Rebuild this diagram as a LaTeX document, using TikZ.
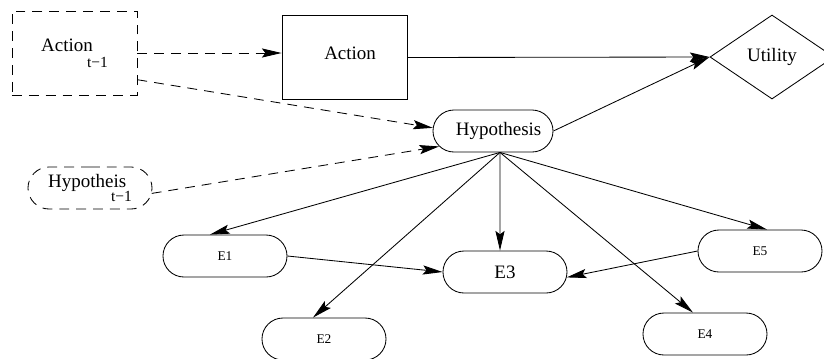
\documentclass[tikz,border=0pt]{standalone}
\usepackage{fontspec}
\setmainfont{Liberation Serif}
\usetikzlibrary{arrows.meta,shapes.geometric,shapes.misc}

\begin{document}
\begin{tikzpicture}[x=0.025cm,y=-0.025cm,line width=0.6pt,
  >={Stealth[length=14pt,width=6.5pt,inset=2.5pt]},
  font=\fontsize{13.5}{15}\selectfont,
  box/.style={draw,rectangle,minimum width=3.125cm,minimum height=2.1cm,inner sep=0pt},
  pill/.style={draw,rounded rectangle,minimum width=3.1cm,minimum height=1.05cm,inner sep=0pt},
  prev/.style={dash pattern=on 7pt off 5pt},
  small/.style={font=\fontsize{9.5}{11}\selectfont}]
\useasboundingbox (0,0) rectangle (824,358);
% 决策与效用
\node[box,prev,align=left] (actp) at (74.5,53)
  {Action\\[-3.5pt]\hspace*{32.6pt}{\fontsize{11}{11}\selectfont t−1}};
\node[box] (act) at (344.5,57.5) {\raisebox{6pt}{\hspace*{8pt}Action}};
\node[draw,diamond,minimum width=3.1cm,minimum height=2.1cm,inner sep=0pt] (util) at (772,57) {Utility};
% 假设
\node[pill,minimum width=3cm] (hyp) at (493,131) {\hspace*{8pt}Hypothesis};
\node[pill,prev,align=left] (hypp) at (90,188)
  {Hypotheis\\[-4.8pt]\hspace*{44.7pt}{\fontsize{11}{11}\selectfont t−1}};
% 证据
\node[pill,small] (e1) at (225,256) {E1};
\node[pill,small] (e2) at (324,339) {E2};
\node[pill] (e3) at (505,272) {E3};
\node[pill,small] (e4) at (705,334) {E4};
\node[pill,small] (e5) at (760,251) {E5};
% 时间上的连线（虚线）
\draw[->,prev] (actp.east) -- (actp.east -| act.west);
\draw[->,prev] (actp.-23) -- (hyp.177);
\draw[->,prev] (hypp.-5) -- (hyp.196);
% 效用
\draw[->] (act.east) -- (util.west);
\draw[->] (hyp.east) -- (util.west);
% 假设到证据
\foreach \e/\dx in {e1/-0.375cm,e2/-0.275cm,e3/-0.125cm,e4/-0.3cm,e5/0.175cm}
  \draw[->] ([xshift=0.175cm]hyp.south) -- ([xshift=\dx]\e.north);
\draw[->] (e1.east) -- (e3.west);
\draw[->] (e5.west) -- (e3.-5);
\end{tikzpicture}
\end{document}
